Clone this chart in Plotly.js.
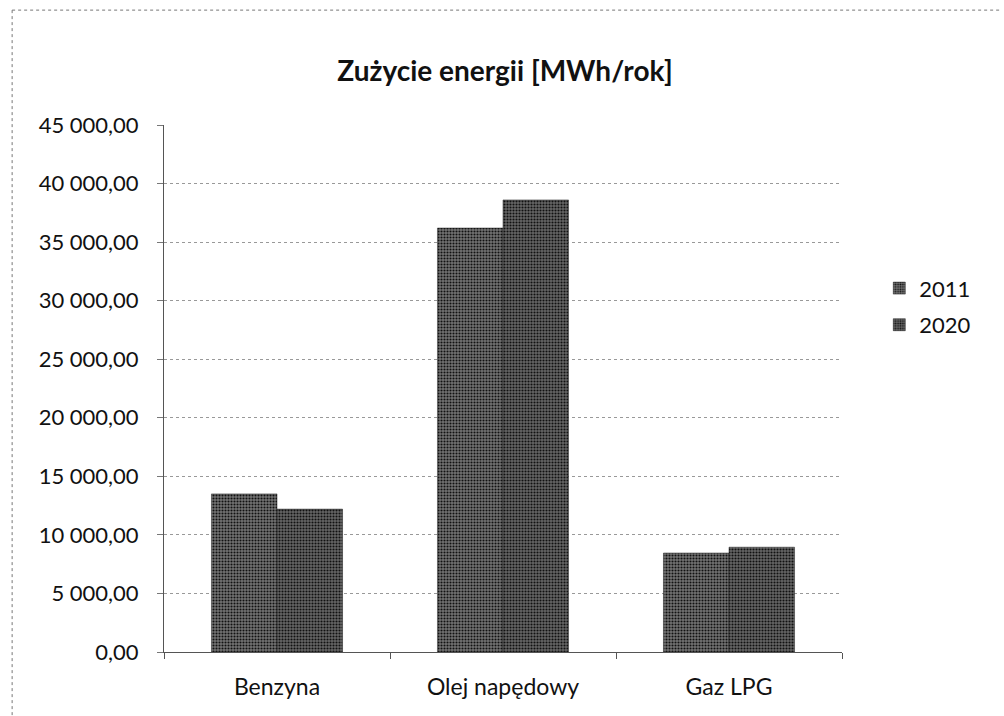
<!DOCTYPE html>
<html>
<head>
<meta charset="utf-8">
<script src="https://cdn.plot.ly/plotly-3.0.1.min.js"></script>
<style>
  html, body { margin: 0; padding: 0; background: #fff; }
  #chart { width: 1004px; height: 716px; }
</style>
</head>
<body>
<div id="chart"></div>
<script>
// fuel types and yearly energy use
const categories = ["Benzyna", "Olej napędowy", "Gaz LPG"];
const years = ["2011", "2020"];
const values2011 = [13500, 36200, 8450];
const values2020 = [12200, 38600, 8950];
const yTicks = [0, 5000, 10000, 15000, 20000, 25000, 30000, 35000, 40000, 45000];

const font = "Lato, 'Open Sans', sans-serif";

function barTrace(name, values, fill) {
  return {
    type: "bar",
    name: name,
    legendgroup: name,
    x: categories,
    y: values,
    marker: {
      color: fill,
      line: { color: "#222", width: 0.5 },
      pattern: { shape: ".", fgcolor: "#111", bgcolor: fill, size: 3, solidity: 0.4 }
    },
    hoverinfo: "x+y"
  };
}

const traces = [
  barTrace(years[0], values2011, "#747474"),
  barTrace(years[1], values2020, "#666666")
];

// dotted frame round the chart (left and top edges only, as in the scan)
const frame = { color: "#777", width: 1, dash: "dot" };

const layout = {
  width: 1004,
  height: 716,
  paper_bgcolor: "#fff",
  plot_bgcolor: "#fff",
  font: { family: font, color: "#111", size: 18 },
  separators: ", ",
  margin: { l: 164, r: 162, t: 125, b: 64 },
  title: {
    text: "<b>Zużycie energii [MWh/rok]</b>",
    font: { family: font, size: 28, color: "#111" },
    x: 0.503, xanchor: "center",
    y: 0.9, yanchor: "middle"
  },
  barmode: "group",
  bargap: 0.42,
  bargroupgap: 0,
  xaxis: {
    showline: true,
    linecolor: "#555",
    ticks: "outside",
    tickson: "boundaries",
    ticklen: 6,
    tickcolor: "#555",
    ticklabelstandoff: 14,
    tickfont: { family: font, size: 23, color: "#111" },
    showgrid: false
  },
  yaxis: {
    range: [0, 45000],
    tickvals: yTicks,
    tickformat: ",.2f",
    showline: true,
    linecolor: "#555",
    ticks: "outside",
    ticklen: 6,
    tickcolor: "#777",
    ticklabelstandoff: 14,
    tickfont: { family: font, size: 22, color: "#111" },
    showgrid: true,
    gridcolor: "#999",
    griddash: "dot",
    gridwidth: 1,
    zeroline: false
  },
  legend: {
    x: 1.055, xanchor: "left",
    y: 0.655, yanchor: "middle",
    font: { family: font, size: 22, color: "#111" },
    itemwidth: 30,
    traceorder: "grouped",
    tracegroupgap: 5,
    bgcolor: "rgba(0,0,0,0)"
  },
  shapes: [
    { type: "line", xref: "paper", yref: "paper", x0: -0.224, x1: -0.224, y0: 1.218, y1: -0.125, line: frame },
    { type: "line", xref: "paper", yref: "paper", x0: -0.224, x1: 1.235, y0: 1.218, y1: 1.218, line: frame }
  ]
};

Plotly.newPlot("chart", traces, layout, { displayModeBar: false, staticPlot: true });
</script>
</body>
</html>
